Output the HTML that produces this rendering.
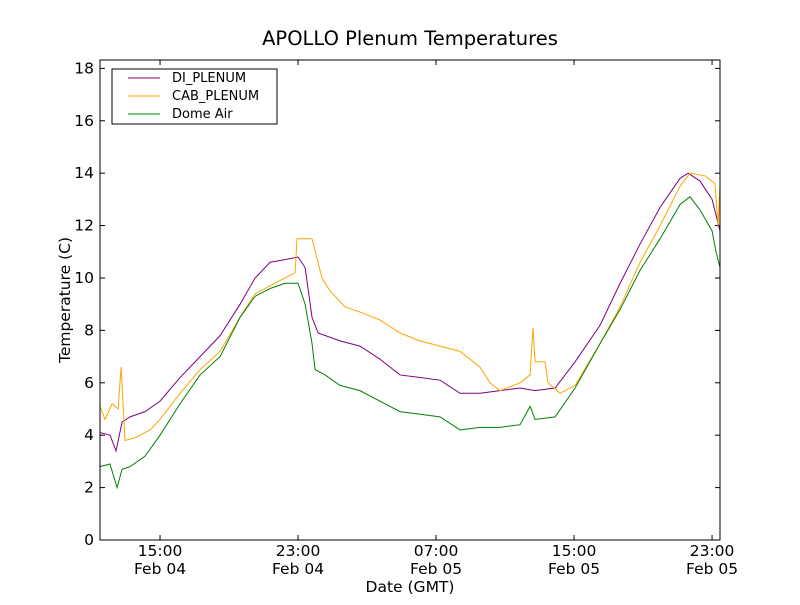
<!DOCTYPE html>
<html><head><meta charset="utf-8"><style>
body{margin:0;background:#fff;}
svg text{font-family:"DejaVu Sans","Liberation Sans",sans-serif;fill:#000;}
</style></head><body>
<svg id="chart" width="800" height="600" xmlns="http://www.w3.org/2000/svg">
<rect width="800" height="600" fill="#fff"/>
<text x="410" y="45" font-size="19.5" text-anchor="middle">APOLLO Plenum Temperatures</text>
<g id="plot"></g>
<rect x="100" y="60" width="620" height="480" fill="none" stroke="#000" stroke-width="1"/>
<text transform="translate(70,300) rotate(-90)" font-size="15.5" text-anchor="middle">Temperature (C)</text>
<text x="410" y="592" font-size="15.5" text-anchor="middle">Date (GMT)</text>
<g>
<rect x="112" y="69" width="165" height="55" fill="#fff" stroke="#000"/>
<line x1="128" y1="78" x2="160" y2="78" stroke="purple"/>
<text x="172" y="82" font-size="13">DI_PLENUM</text>
<line x1="128" y1="96" x2="160" y2="96" stroke="orange"/>
<text x="172" y="100" font-size="13">CAB_PLENUM</text>
<line x1="128" y1="114" x2="160" y2="114" stroke="green"/>
<text x="172" y="118" font-size="13">Dome Air</text>
</g>
</svg>
<script>
const yTicks=[0,2,4,6,8,10,12,14,16,18];
const xTickHours=[0,8,16,24,32];
const xTickTimes=["15:00","23:00","07:00","15:00","23:00"];
const xTickDates=["Feb 04","Feb 04","Feb 05","Feb 05","Feb 05"];
const greenT=[-3.48,-2.9,-2.49,-2.2,-1.74,-0.87,0,1.16,2.32,3.48,4.64,5.51,6.38,7.25,8,8.41,8.81,8.99,9.57,10.43,11.59,12.75,13.91,15.07,16.23,17.39,18.55,19.71,20.87,21.45,21.74,22.9,24.06,25.51,26.67,27.83,28.99,30.14,30.72,31.3,32,32.23,32.46];
const greenV=[2.8,2.9,2.0,2.7,2.8,3.2,4.0,5.2,6.3,7.0,8.5,9.3,9.6,9.8,9.8,9.0,7.5,6.5,6.3,5.9,5.7,5.3,4.9,4.8,4.7,4.2,4.3,4.3,4.4,5.1,4.6,4.7,5.8,7.5,8.8,10.3,11.5,12.8,13.1,12.6,11.8,11.0,10.4];
const purpleT=[-3.48,-2.9,-2.55,-2.2,-1.74,-0.87,0,1.16,2.32,3.48,4.64,5.51,6.38,7.25,8,8.41,8.81,9.16,10.43,11.59,12.75,13.91,15.07,16.23,17.39,18.55,19.71,20.87,21.74,22.9,24.06,25.51,26.67,27.83,28.99,30.14,30.61,31.3,32,32.46];
const purpleV=[4.1,4.0,3.4,4.5,4.7,4.9,5.3,6.2,7.0,7.8,9.0,10.0,10.6,10.7,10.8,10.4,8.5,7.9,7.6,7.4,6.9,6.3,6.2,6.1,5.6,5.6,5.7,5.8,5.7,5.8,6.8,8.2,9.8,11.3,12.7,13.8,14.0,13.7,13.0,11.8];
const orangeT=[-3.48,-3.19,-2.78,-2.43,-2.26,-2.03,-1.45,-0.58,0,1.16,2.32,3.48,4.64,5.51,6.38,7.25,7.83,7.94,8.81,9.39,9.86,10.72,11.59,12.75,13.91,15.07,16.23,17.39,18.55,19.13,19.71,20.87,21.45,21.62,21.74,22.32,22.49,23.19,24.06,25.51,26.67,27.83,28.99,30.14,30.72,31.59,32.17,32.35,32.46];
const orangeV=[5.1,4.6,5.2,5.0,6.6,3.8,3.9,4.2,4.6,5.6,6.5,7.2,8.5,9.4,9.7,10.0,10.2,11.5,11.5,10.0,9.5,8.9,8.7,8.4,7.9,7.6,7.4,7.2,6.6,6.0,5.7,6.0,6.3,8.1,6.8,6.8,6.0,5.6,5.9,7.5,8.9,10.6,12.0,13.5,14.0,13.9,13.6,12.0,13.5];
const X0=100,X1=720,Y0=540,Y1=60,TMIN=-3.48,TMAX=32.46,VMAX=18.32;
const sx=t=>X0+(t-TMIN)/(TMAX-TMIN)*(X1-X0);
const sy=v=>Y0-v/VMAX*(Y0-Y1);
const NS="http://www.w3.org/2000/svg";
const g=document.getElementById('plot');
function mk(tag,attrs){const e=document.createElementNS(NS,tag);for(const k in attrs)e.setAttribute(k,attrs[k]);g.appendChild(e);return e;}
yTicks.forEach(v=>{
  const y=sy(v);
  const a=mk('line',{x1:X0,y1:y,x2:X0+5,y2:y,stroke:'#000'});
  
  
  const b=mk('line',{x1:X1-5,y1:y,x2:X1,y2:y,stroke:'#000'});
  
  
  const t=mk('text',{x:X0-6,y:y+5,'font-size':15.5,'text-anchor':'end'});t.textContent=v;
  
  
});
xTickHours.forEach((h,i)=>{
  const x=sx(h);
  const a=mk('line',{x1:x,y1:Y0,x2:x,y2:Y0-5,stroke:'#000'});
  
  
  const b=mk('line',{x1:x,y1:Y1,x2:x,y2:Y1+5,stroke:'#000'});
  
  
  const t=mk('text',{x:x,y:556,'font-size':15.5,'text-anchor':'middle'});t.textContent=xTickTimes[i];
  
  
  const d=mk('text',{x:x,y:574,'font-size':15.5,'text-anchor':'middle'});d.textContent=xTickDates[i];
  
  
});
function line(T,V,color,name){
  const p=mk('polyline',{points:T.map((t,i)=>sx(t)+','+sy(V[i])).join(' '),fill:'none',stroke:color,'stroke-width':1});
  
  
}
line(purpleT,purpleV,'purple','di-plenum-line');
line(orangeT,orangeV,'orange','cab-plenum-line');
line(greenT,greenV,'green','dome-air-line');
</script>
</body></html>
